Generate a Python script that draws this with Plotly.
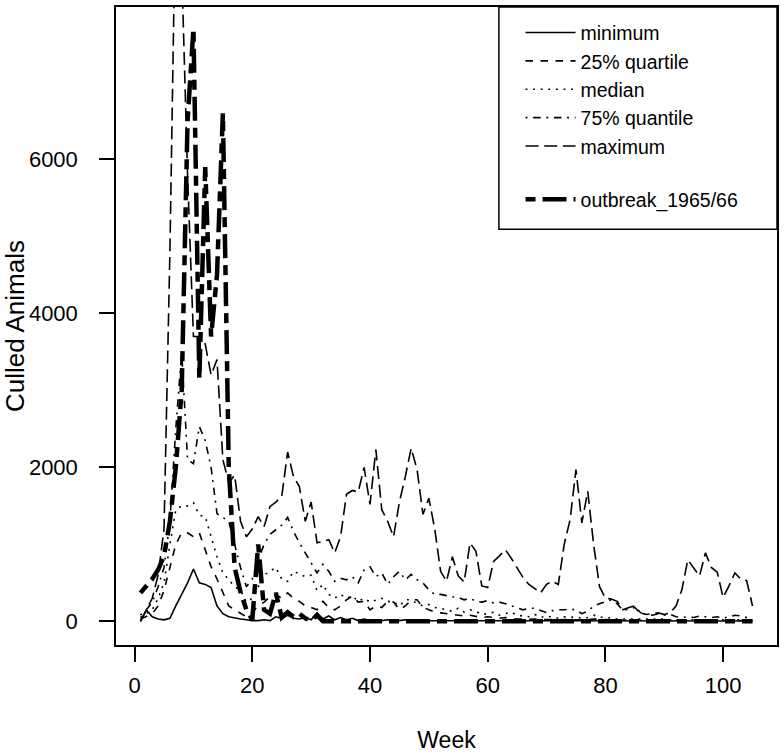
import plotly.graph_objects as go

weeks = list(range(1, 106))

minimum = [0, 150, 60, 30, 20, 40, 200, 350, 500, 680,
           500, 480, 440, 200, 100, 60, 40, 30, 20, 10,
           10, 20, 10, 60, 40, 80, 40, 30, 50, 20,
           110, 30, 70, 20, 50, 20, 40, 10, 30, 10,
           20, 10, 20, 10, 10, 20, 10, 10, 10, 10,
           5, 5, 10, 5, 5, 5, 5, 5, 5, 5,
           5, 5, 5, 5, 5, 5, 5, 5, 5, 5,
           5, 5, 5, 5, 5, 5, 5, 5, 5, 5,
           5, 5, 5, 5, 5, 5, 5, 5, 5, 5,
           5, 5, 5, 5, 5, 5, 5, 5, 5, 5,
           5, 5, 5, 5, 5]

quartile25 = [30, 60, 100, 200, 400, 700, 1000, 1150, 1150, 1100,
              1150, 930, 710, 550, 370, 200, 150, 100, 60, 120,
              200, 250, 320, 350, 300, 370, 300, 260, 200, 180,
              150, 260, 180, 150, 200, 280, 330, 250, 260, 150,
              200, 180, 260, 250, 150, 200, 280, 280, 180, 150,
              120, 110, 100, 90, 80, 70, 80, 60, 50, 60,
              50, 40, 50, 40, 30, 30, 25, 30, 20, 25,
              20, 20, 25, 20, 20, 20, 20, 30, 25, 20,
              20, 15, 15, 15, 15, 15, 15, 15, 15, 15,
              10, 10, 10, 10, 10, 10, 10, 10, 10, 10,
              10, 10, 10, 10, 10]

median = [50, 100, 150, 300, 500, 1000, 1450, 1500, 1500, 1540,
          1380, 1360, 1100, 840, 630, 540, 450, 400, 250, 300,
          450, 600, 650, 700, 550, 520, 650, 620, 580, 600,
          400, 480, 350, 300, 350, 300, 330, 260, 300, 250,
          280, 300, 260, 250, 200, 280, 280, 230, 200, 220,
          180, 170, 150, 130, 170, 120, 150, 130, 90, 100,
          120, 80, 100, 120, 80, 70, 60, 90, 50, 70,
          50, 40, 60, 50, 60, 40, 50, 80, 60, 40,
          50, 30, 30, 30, 30, 30, 30, 30, 30, 30,
          20, 20, 20, 20, 20, 20, 20, 20, 20, 20,
          20, 20, 20, 20, 20]

quantile75 = [80, 150, 250, 450, 700, 1300, 2500, 3500, 2100, 2050,
              2530, 2350, 2000, 1400, 1350, 1300, 1000, 700, 450, 550,
              800, 1000, 1130, 1190, 1250, 1350, 1170, 1020, 890, 760,
              630, 740, 650, 520, 560, 540, 580, 500, 670, 710,
              580, 630, 480, 580, 650, 540, 610, 540, 500, 410,
              350, 350, 330, 320, 310, 280, 300, 260, 250, 270,
              240, 250, 230, 200, 180, 150, 170, 170, 140, 115,
              140, 150, 150, 160, 150, 100, 130, 200, 230, 260,
              280, 230, 140, 160, 180, 100, 90, 80, 100, 80,
              90, 60, 50, 60, 50, 70, 60, 50, 60, 40,
              60, 80, 70, 50, 30]

maximum = [0, 150, 300, 600, 1200, 4800, 9500, 8500, 5800, 3700,
           3700, 3600, 3200, 3400, 2100, 1800, 1900, 1300, 1100, 1200,
           1360, 1230, 1490, 1550, 1620, 2200, 1880, 1750, 1300, 1550,
           1020, 1040, 1060, 890, 1100, 1650, 1700, 1680, 2000, 1520,
           2230, 1450, 1300, 1100, 1550, 1880, 2250, 1970, 1390, 1600,
           1200, 650, 520, 840, 590, 510, 1020, 910, 460, 440,
           780, 850, 930, 820, 700, 570, 480, 420, 370, 480,
           520, 480, 1000, 1320, 1970, 1280, 1690, 1000, 450, 300,
           290, 260, 150, 180, 200, 110, 90, 100, 110, 90,
           110, 200, 410, 800, 700, 590, 890, 700, 640, 310,
           460, 630, 550, 530, 200]

outbreak = [370, 450, 550, 670, 850, 1300, 2000, 3000, 6500, 7700,
            3150, 5900, 3700, 4500, 6600, 2000, 700, 380, 150, 20,
            1000, 150, 100, 370, 50, 120, 60, 100, 40, 10,
            80, 0, 0, 0, 0, 0, 0, 0, 0, 0,
            0, 0, 0, 0, 0, 0, 0, 0, 0, 0,
            0, 0, 0, 0, 0, 0, 0, 0, 0, 0,
            0, 0, 0, 0, 0, 0, 0, 0, 0, 0,
            0, 0, 0, 0, 0, 0, 0, 0, 0, 0,
            0, 0, 0, 0, 0, 0, 0, 0, 0, 0,
            0, 0, 0, 0, 0, 0, 0, 0, 0, 0,
            0, 0, 0, 0, 0]

x_ticks = [0, 20, 40, 60, 80, 100]
y_ticks = [0, 2000, 4000, 6000]

series = [
    ("minimum", minimum, "solid", 1.6, "a"),
    ("25% quartile", quartile25, "7.5px,7.5px", 1.6, "a"),
    ("median", median, "1.9px,5.7px", 1.6, "a"),
    ("75% quantile", quantile75, "1.9px,5.7px,7.5px,5.7px", 1.6, "a"),
    ("maximum", maximum, "13px,5.7px", 1.6, "a"),
    ("outbreak_1965/66", outbreak, "10px,7px,24px,7px", 4.5, "b"),
]

FONT = "Liberation Sans, Arial, sans-serif"

fig = go.Figure()
for name, vals, dash, w, grp in series:
    fig.add_trace(go.Scatter(
        x=weeks, y=vals, mode="lines", name=name,
        legendgroup=grp,
        line=dict(color="black", width=w, dash=dash),
        cliponaxis=True,
    ))

axis_common = dict(
    showgrid=False, zeroline=False, showline=True, linecolor="black",
    linewidth=1.5, mirror=True, ticks="outside", ticklen=15, tickwidth=1.5,
    tickcolor="black", tickfont=dict(family=FONT, size=22, color="black"),
)

fig.update_layout(
    width=784, height=756,
    margin=dict(l=110, r=6, t=5, b=111),
    paper_bgcolor="white", plot_bgcolor="white",
    font=dict(family=FONT, size=22, color="black"),
    xaxis=dict(range=[-3.16, 109.16], tickvals=x_ticks,
               ticklabelstandoff=5,
               title=dict(text="Week", standoff=35,
                          font=dict(family=FONT, size=23)),
               **axis_common),
    yaxis=dict(range=[-307, 7980], tickvals=y_ticks,
               ticklabelstandoff=17,
               title=dict(text="Culled Animals", standoff=6,
                          font=dict(family=FONT, size=26)),
               **axis_common),
    showlegend=True,
    legend=dict(
        x=0.612, y=0.99, xanchor="left", yanchor="top",
        bgcolor="rgba(0,0,0,0)", borderwidth=0,
        traceorder="grouped", tracegroupgap=25,
        itemwidth=50,
        font=dict(family=FONT, size=19.5, color="black"),
    ),
    shapes=[dict(type="rect", xref="paper", yref="paper",
                 x0=0.5793, x1=1.0, y0=0.6516, y1=1.0,
                 line=dict(color="black", width=1.5),
                 fillcolor="white", layer="above")],
)

fig.write_html("out.html", config={"displayModeBar": False},
               post_script="document.body.style.margin='0';")
